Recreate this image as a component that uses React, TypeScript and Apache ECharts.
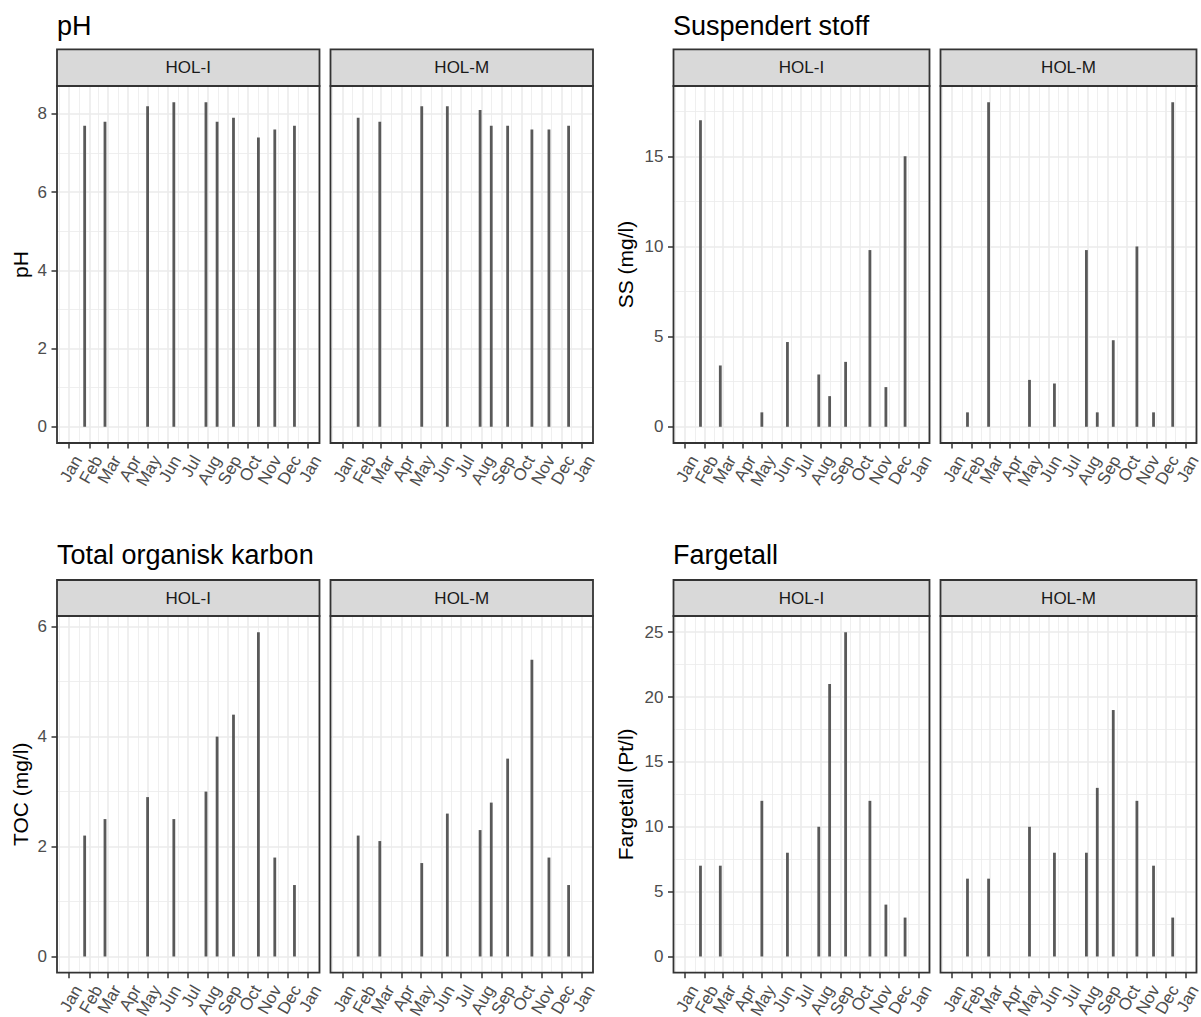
import React, { useEffect, useRef } from "react";
import * as echarts from "echarts";

// ---------- data ----------
const monthNames = ["Jan", "Feb", "Mar", "Apr", "May", "Jun", "Jul", "Aug", "Sep", "Oct", "Nov", "Dec"];
const stations = ["HOL-I", "HOL-M"];

const datesHOLI = ["2023-01-25", "2023-02-25", "2023-05-01", "2023-06-10", "2023-07-29", "2023-08-15", "2023-09-09", "2023-10-17", "2023-11-11", "2023-12-11"];
const datesHOLM = ["2023-01-25", "2023-02-27", "2023-05-02", "2023-06-10", "2023-07-30", "2023-08-16", "2023-09-10", "2023-10-17", "2023-11-12", "2023-12-12"];

const phHOLI = [7.7, 7.8, 8.2, 8.3, 8.3, 7.8, 7.9, 7.4, 7.6, 7.7];
const phHOLM = [7.9, 7.8, 8.2, 8.2, 8.1, 7.7, 7.7, 7.6, 7.6, 7.7];
const ssHOLI = [17, 3.4, 0.8, 4.7, 2.9, 1.7, 3.6, 9.8, 2.2, 15];
const ssHOLM = [0.8, 18, 2.6, 2.4, 9.8, 0.8, 4.8, 10, 0.8, 18];
const tocHOLI = [2.2, 2.5, 2.9, 2.5, 3.0, 4.0, 4.4, 5.9, 1.8, 1.3];
const tocHOLM = [2.2, 2.1, 1.7, 2.6, 2.3, 2.8, 3.6, 5.4, 1.8, 1.3];
const fargHOLI = [7, 7, 12, 8, 10, 21, 25, 12, 4, 3];
const fargHOLM = [6, 6, 10, 8, 8, 13, 19, 12, 7, 3];

const yTicksPH = [0, 2, 4, 6, 8];
const yMinorPH = [1, 3, 5, 7];
const yTicksSS = [0, 5, 10, 15];
const yMinorSS = [2.5, 7.5, 12.5, 17.5];
const yTicksTOC = [0, 2, 4, 6];
const yMinorTOC = [1, 3, 5];
const yTicksFARG = [0, 5, 10, 15, 20, 25];
const yMinorFARG = [2.5, 7.5, 12.5, 17.5, 22.5];

const YEAR = 2023;

// ---------- layout / style ----------
const FONT = '"Liberation Sans", Arial, Helvetica, sans-serif';
const COLS = [
  { panels: [[57, 262.5], [330.5, 262.5]], yTitleX: 20, titleX: 57 },
  { panels: [[673.5, 256], [940.5, 256]], yTitleX: 625, titleX: 673 },
];
const ROWS = [
  { stripTop: 49.3, panelTop: 86, panelBottom: 443, titleY: 26 },
  { stripTop: 580, panelTop: 616, panelBottom: 972.7, titleY: 555 },
];

const plots = [
  { title: "pH", yName: "pH", values: [phHOLI, phHOLM], ticks: yTicksPH, minor: yMinorPH, col: 0, row: 0 },
  { title: "Suspendert stoff", yName: "SS (mg/l)", values: [ssHOLI, ssHOLM], ticks: yTicksSS, minor: yMinorSS, col: 1, row: 0 },
  { title: "Total organisk karbon", yName: "TOC (mg/l)", values: [tocHOLI, tocHOLM], ticks: yTicksTOC, minor: yMinorTOC, col: 0, row: 1 },
  { title: "Fargetall", yName: "Fargetall (Pt/l)", values: [fargHOLI, fargHOLM], ticks: yTicksFARG, minor: yMinorFARG, col: 1, row: 1 },
];

function ts(d: string) {
  const [y, m, dd] = d.split("-").map(Number);
  return Date.UTC(y, m - 1, dd);
}

function monthLabelStyle(values: number[]) {
  return {
    show: true,
    customValues: values,
    formatter: (v: number) => monthNames[new Date(v).getUTCMonth()],
    rotate: 60,
    align: "right",
    verticalAlign: "top",
    margin: 8.75,
    padding: [5.5, 0, 0, 0],
    lineHeight: 10,
    fontSize: 17,
    fontFamily: FONT,
    color: "#4D4D4D",
    hideOverlap: false,
  };
}

function buildOption() {
  const start = Date.UTC(YEAR, 0, 1);
  const end = Date.UTC(YEAR, 11, 31);
  const span = end - start;
  const xMin = start - 0.05 * span;
  const xMax = end + 0.05 * span;
  const majorAll: number[] = [];
  for (let m = -1; m <= 13; m++) majorAll.push(Date.UTC(YEAR, m, 1));
  const major = majorAll.filter((v) => v >= xMin && v <= xMax);
  // labels split over two axes (alternate months) so that the library's
  // neighbour-overlap check never drops a rotated label
  const labelsA = major.filter((_, i) => i % 2 === 0);
  const labelsB = major.filter((_, i) => i % 2 === 1);
  const minor: number[] = [];
  for (let i = 0; i < majorAll.length - 1; i++) {
    const mid = (majorAll[i] + majorAll[i + 1]) / 2;
    if (mid > xMin && mid < xMax) minor.push(mid);
  }

  const grid: any[] = [];
  const xAxis: any[] = [];
  const yAxis: any[] = [];
  const series: any[] = [];
  const graphic: any[] = [];
  let gi = 0;

  plots.forEach((p) => {
    const col = COLS[p.col];
    const row = ROWS[p.row];
    const vmax = Math.max(...p.values[0], ...p.values[1]);
    const yMin = -0.05 * vmax;
    const yMax = 1.05 * vmax;
    const panelH = row.panelBottom - row.panelTop;

    graphic.push({
      type: "text",
      x: col.titleX,
      y: row.titleY,
      z: 100,
      style: { text: p.title, fill: "#000", font: `27px ${FONT}`, align: "left", verticalAlign: "middle" },
    });
    graphic.push({
      type: "text",
      x: col.yTitleX,
      y: (row.panelTop + row.panelBottom) / 2,
      rotation: Math.PI / 2,
      z: 100,
      style: { text: p.yName, fill: "#000", font: `21px ${FONT}`, align: "center", verticalAlign: "middle" },
    });

    stations.forEach((st, si) => {
      const [left, width] = col.panels[si];
      const dates = si === 0 ? datesHOLI : datesHOLM;
      grid.push({
        left,
        top: row.panelTop,
        width,
        height: panelH,
        show: true,
        backgroundColor: "#fff",
        borderWidth: 0,
        containLabel: false,
        outerBoundsMode: "none",
      });
      xAxis.push({
        type: "value",
        gridIndex: gi,
        position: "bottom",
        min: xMin,
        max: xMax,
        axisLine: { show: false, onZero: false },
        axisTick: { show: true, length: 5.5, lineStyle: { color: "#333", width: 1.5 }, customValues: major },
        axisLabel: monthLabelStyle(labelsA),
        splitLine: { show: true, lineStyle: { color: "#EBEBEB", width: 1.6 } },
      });
      xAxis.push({
        type: "value",
        gridIndex: gi,
        position: "bottom",
        min: xMin,
        max: xMax,
        axisLine: { show: false, onZero: false },
        axisTick: { show: false, customValues: minor },
        axisLabel: monthLabelStyle(labelsB),
        splitLine: { show: true, lineStyle: { color: "#EBEBEB", width: 0.8 } },
      });
      yAxis.push({
        type: "value",
        gridIndex: gi,
        position: "left",
        min: yMin,
        max: yMax,
        axisLine: { show: false, onZero: false },
        axisTick: { show: si === 0, length: 5.5, lineStyle: { color: "#333", width: 1.5 }, customValues: p.ticks },
        axisLabel: {
          show: si === 0,
          customValues: p.ticks,
          formatter: (v: number) => String(v),
          margin: 10,
          fontSize: 17,
          fontFamily: FONT,
          color: "#4D4D4D",
        },
        splitLine: { show: true, lineStyle: { color: "#EBEBEB", width: 1.6 } },
      });
      yAxis.push({
        type: "value",
        gridIndex: gi,
        position: "left",
        min: yMin,
        max: yMax,
        axisLine: { show: false, onZero: false },
        axisTick: { show: false, customValues: p.minor },
        axisLabel: { show: false, customValues: p.minor },
        splitLine: { show: true, lineStyle: { color: "#EBEBEB", width: 0.8 } },
      });
      series.push({
        type: "bar",
        xAxisIndex: 2 * gi,
        yAxisIndex: 2 * gi,
        data: dates.map((d, i) => [ts(d), p.values[si][i]]),
        barWidth: 2.8,
        itemStyle: { color: "#595959" },
        silent: true,
      });

      // strip
      graphic.push({
        type: "rect",
        z: 50,
        shape: { x: left, y: row.stripTop, width, height: row.panelTop - row.stripTop },
        style: { fill: "#D9D9D9", stroke: "#333", lineWidth: 1.8 },
      });
      graphic.push({
        type: "text",
        z: 60,
        x: left + width / 2,
        y: (row.stripTop + row.panelTop) / 2,
        style: { text: st, fill: "#1A1A1A", font: `17px ${FONT}`, align: "center", verticalAlign: "middle" },
      });
      // panel border
      graphic.push({
        type: "rect",
        z: 50,
        shape: { x: left, y: row.panelTop, width, height: panelH },
        style: { fill: "none", stroke: "#333", lineWidth: 1.8 },
      });
      gi++;
    });
  });

  return {
    animation: false,
    backgroundColor: "#fff",
    grid,
    xAxis,
    yAxis,
    series,
    graphic: { elements: graphic },
  };
}

export default function App() {
  const ref = useRef<HTMLDivElement>(null);
  useEffect(() => {
    document.body.style.margin = "0";
    const chart = echarts.init(ref.current!, null, { renderer: "svg" });
    chart.setOption(buildOption() as any);
    return () => chart.dispose();
  }, []);
  return <div ref={ref} style={{ width: 1201, height: 1017, background: "#fff" }} />;
}
